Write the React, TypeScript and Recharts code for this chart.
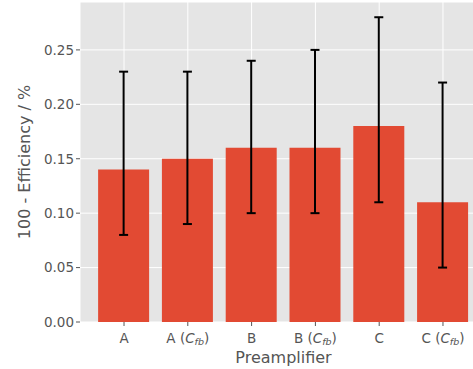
import { Bar, BarChart, CartesianGrid, ErrorBar, Label, XAxis, YAxis } from "recharts";

const preamps = ["A", "A", "B", "B", "C", "C"];
const withFeedback = [false, true, false, true, false, true];
const inefficiency = [0.14, 0.15, 0.16, 0.16, 0.18, 0.11];
const lowerBound = [0.08, 0.09, 0.1, 0.1, 0.11, 0.05];
const upperBound = [0.23, 0.23, 0.24, 0.25, 0.28, 0.22];
const yTicks = [0, 0.05, 0.1, 0.15, 0.2, 0.25];

const data = preamps.map((name, i) => ({
  pos: i,
  name,
  fb: withFeedback[i],
  value: inefficiency[i],
  err: [inefficiency[i] - lowerBound[i], upperBound[i] - inefficiency[i]],
}));

const FONT = "'DejaVu Sans', sans-serif";
const TEXT = "#555555";

function PreampTick({ x, y, payload }: any) {
  const d = data[payload.value];
  return (
    <text x={x} y={y + 15} textAnchor="middle" fill={TEXT} fontSize={13.5} fontFamily={FONT}>
      {d.name}
      {d.fb && (
        <>
          {" ("}
          <tspan fontStyle="italic">C</tspan>
          <tspan fontStyle="italic" fontSize={9.5} dy={2}>fb</tspan>
          <tspan dy={-2}>)</tspan>
        </>
      )}
    </text>
  );
}

export default function App() {
  return (
    <div style={{ position: "absolute", left: 0, top: 0, width: 473, height: 369, overflow: "hidden", background: "#fff" }}>
      <BarChart width={487} height={369} data={data} margin={{ top: 2, right: 0, bottom: 0, left: 0 }}>
        <CartesianGrid fill="#E5E5E5" stroke="#FFFFFF" strokeWidth={1} />
        <XAxis
          type="number"
          dataKey="pos"
          domain={[-0.69, 5.69]}
          ticks={[0, 1, 2, 3, 4, 5]}
          allowDataOverflow
          height={47}
          axisLine={false}
          tickLine={{ stroke: TEXT }}
          tickSize={4}
          tick={<PreampTick />}
        >
          <Label
            content={({ viewBox }: any) => (
              <text
                x={viewBox.x + viewBox.width / 2}
                y={viewBox.y + 41}
                textAnchor="middle"
                fill={TEXT}
                fontSize={16}
                fontFamily={FONT}
              >
                Preamplifier
              </text>
            )}
          />
        </XAxis>
        <YAxis
          domain={[0, 0.294]}
          ticks={yTicks}
          allowDataOverflow
          width={80}
          axisLine={false}
          tickLine={{ stroke: TEXT }}
          tickSize={4}
          tickFormatter={(v: number) => v.toFixed(2)}
          tick={{ fill: TEXT, fontSize: 13.5, fontFamily: FONT }}
        >
          <Label
            content={({ viewBox }: any) => {
              const cx = viewBox.x + 30;
              const cy = viewBox.y + viewBox.height / 2;
              return (
                <text
                  x={cx}
                  y={cy}
                  transform={`rotate(-90 ${cx} ${cy})`}
                  textAnchor="middle"
                  fill={TEXT}
                  fontSize={16}
                  fontFamily={FONT}
                >
                  100 - Efficiency / %
                </text>
              );
            }}
          />
        </YAxis>
        <Bar dataKey="value" fill="#E24A33" barSize={51} isAnimationActive={false}>
          <ErrorBar dataKey="err" width={4.5} strokeWidth={2} stroke="#000000" direction="y" />
        </Bar>
      </BarChart>
    </div>
  );
}
